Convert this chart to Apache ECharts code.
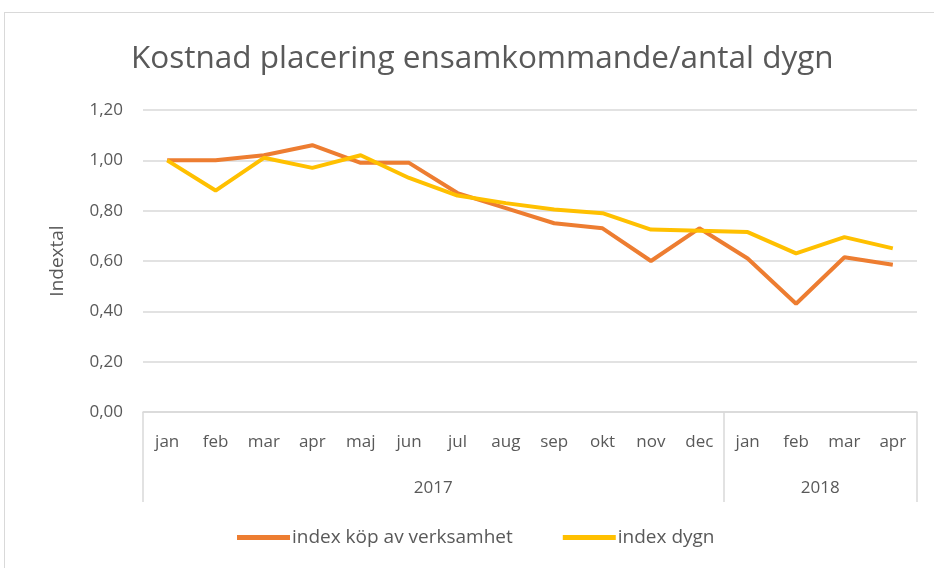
<!DOCTYPE html>
<html>
<head>
<meta charset="utf-8">
<script src="https://cdn.jsdelivr.net/npm/echarts@6/dist/echarts.min.js"></script>
<style>
  html, body { margin: 0; padding: 0; background: #fff; overflow: hidden; }
  #frame { position: absolute; left: 4px; top: 12px; width: 950px; height: 600px; border: 1px solid #d9d9d9; }
  #main { position: absolute; left: 0; top: 0; width: 934px; height: 568px; }
</style>
</head>
<body>
<div id="frame"></div>
<div id="main"></div>
<script>
// data
var months = ['jan', 'feb', 'mar', 'apr', 'maj', 'jun', 'jul', 'aug', 'sep', 'okt', 'nov', 'dec', 'jan', 'feb', 'mar', 'apr'];
var years = ['2017', '2018'];
var yearBounds = [0, 12, 16];   // category boundaries of the year groups
var yearCenters = [6, 14];
var indexKop = [1.00, 1.00, 1.02, 1.06, 0.99, 0.99, 0.87, 0.81, 0.75, 0.73, 0.60, 0.73, 0.61, 0.43, 0.615, 0.585];
var indexDygn = [1.00, 0.88, 1.01, 0.97, 1.02, 0.93, 0.86, 0.83, 0.805, 0.79, 0.725, 0.72, 0.715, 0.63, 0.695, 0.65];

var textColor = '#595959';
var font = 'Open Sans';

var myChart = echarts.init(document.getElementById('main'));
myChart.setOption({
    color: ['#ED7D31', '#FFC000'],
    title: {
        text: 'Kostnad placering ensamkommande/antal dygn',
        left: 126,
        top: 38,
        textStyle: { color: textColor, fontSize: 31.5, fontWeight: 'normal', fontFamily: font }
    },
    legend: {
        bottom: 16,
        left: 232,
        icon: 'rect',
        itemWidth: 53,
        itemHeight: 5,
        itemGap: 50,
        textStyle: { color: textColor, fontSize: 19, fontFamily: font, padding: [0, 0, 0, -3] },
        data: ['index köp av verksamhet', 'index dygn']
    },
    grid: { left: 143, right: 17, top: 110, bottom: 156 },
    xAxis: [
        {
            type: 'category',
            data: months,
            boundaryGap: true,
            axisLine: { lineStyle: { color: '#d9d9d9', width: 1.5 } },
            axisTick: { show: false },
            axisLabel: { color: textColor, fontSize: 17, fontFamily: font, margin: 22, interval: 0 }
        },
        {
            type: 'value',
            position: 'bottom',
            min: 0,
            max: 16,
            axisLine: { show: false },
            splitLine: { show: false },
            axisTick: {
                show: true,
                customValues: yearBounds,
                length: 90,
                lineStyle: { color: '#d9d9d9', width: 1.5 }
            },
            axisLabel: {
                customValues: yearCenters,
                margin: 68,
                color: textColor,
                fontSize: 17,
                fontFamily: font,
                formatter: function (v) {
                    return years[yearCenters.indexOf(v)];
                }
            }
        }
    ],
    yAxis: {
        type: 'value',
        min: 0,
        max: 1.2,
        interval: 0.2,
        name: 'Indextal',
        nameLocation: 'middle',
        nameGap: 76,
        nameTextStyle: { color: textColor, fontSize: 19, fontFamily: font },
        axisLine: { show: false },
        axisTick: { show: false },
        splitLine: { lineStyle: { color: '#d9d9d9', width: 1.5 } },
        axisLabel: {
            color: textColor,
            fontSize: 17,
            fontFamily: font,
            margin: 20,
            formatter: function (v) { return v.toFixed(2).replace('.', ','); }
        }
    },
    series: [
        {
            name: 'index köp av verksamhet',
            type: 'line',
            data: indexKop,
            symbol: 'none',
            lineStyle: { width: 4 }
        },
        {
            name: 'index dygn',
            type: 'line',
            data: indexDygn,
            symbol: 'none',
            lineStyle: { width: 4 }
        }
    ]
});
</script>
</body>
</html>
